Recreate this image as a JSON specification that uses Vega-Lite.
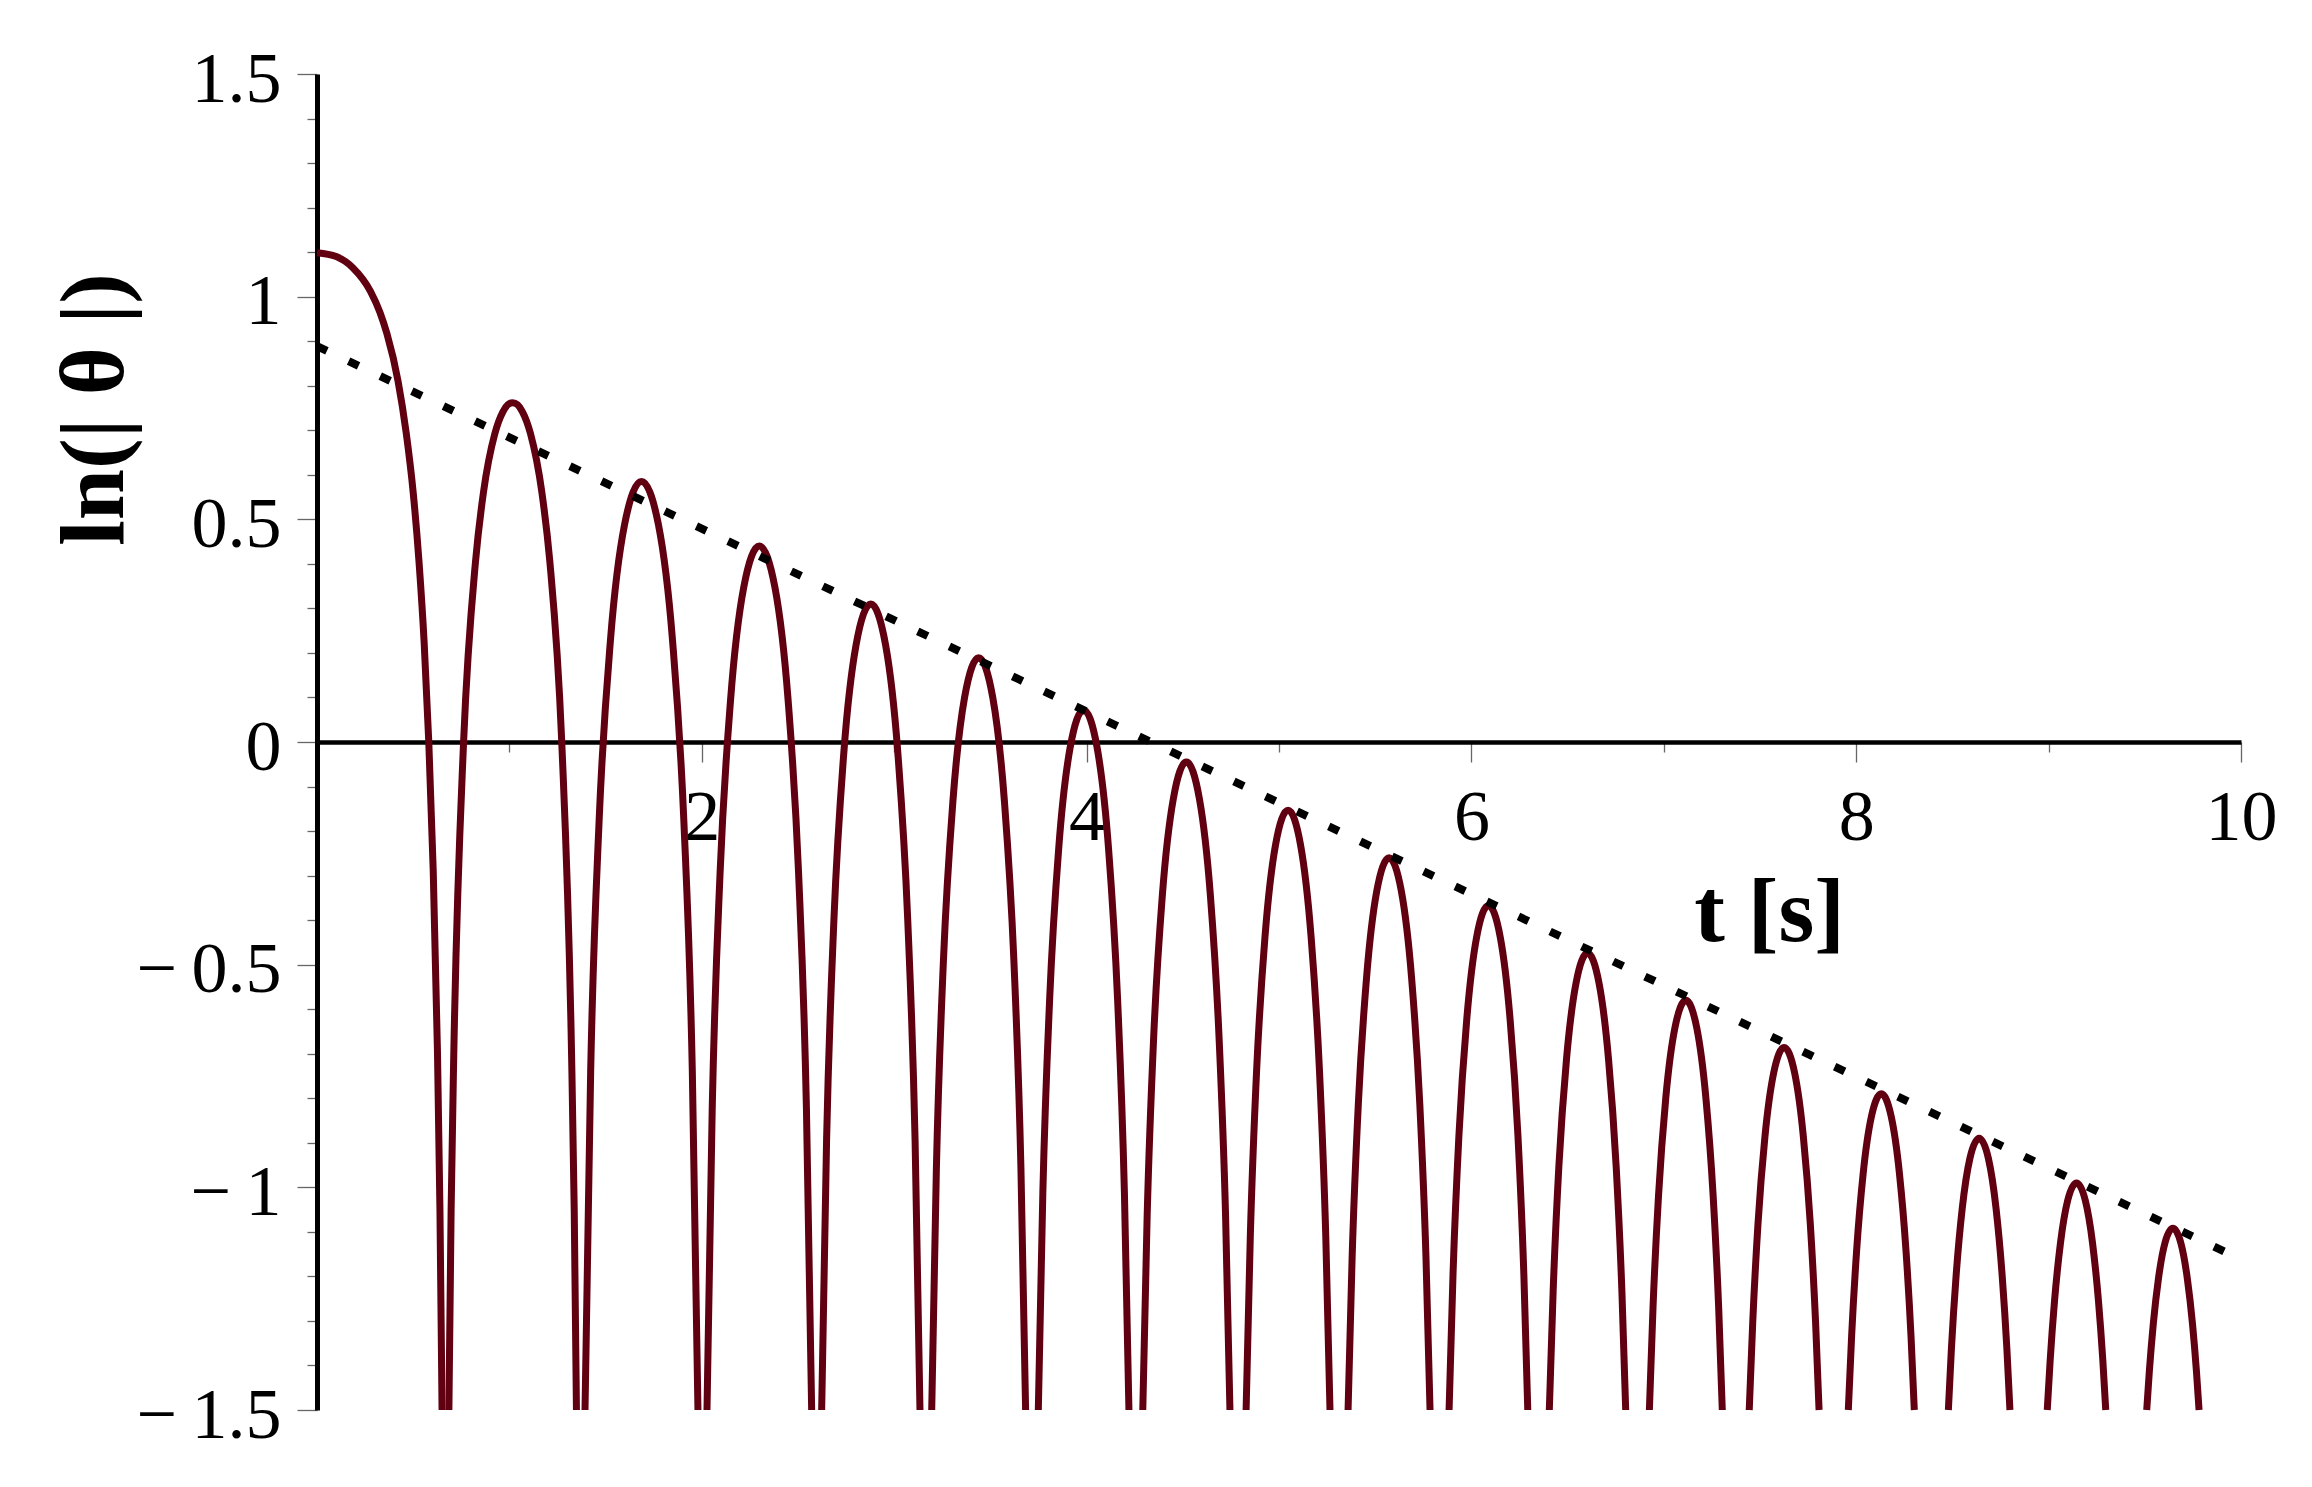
{
  "$schema": "https://vega.github.io/schema/vega-lite/v6.json",
  "width": 1924,
  "height": 1336,
  "autosize": {"type": "none"},
  "padding": {"left": 317, "top": 74, "right": 71, "bottom": 77},
  "background": "white",
  "config": {"view": {"stroke": null}},
  "datasets": {
    "fit": [{"t": 0, "y": 0.889}, {"t": 10, "y": -1.162}],
    "curve": [
      {"t":0,"y":1.0986,"s":0},{"t":0.1,"y":1.09,"s":0},{"t":0.186,"y":1.065,"s":0},{"t":0.278,"y":1.012,"s":0},{"t":0.327,"y":0.965,"s":0},{"t":0.364,"y":0.916,"s":0},{"t":0.421,"y":0.811,"s":0},{"t":0.464,"y":0.693,"s":0},{"t":0.5,"y":0.56,"s":0},{"t":0.53,"y":0.406,"s":0},{"t":0.557,"y":0.223,"s":0},{"t":0.581,"y":0,"s":0},{"t":0.604,"y":-0.288,"s":0},{"t":0.626,"y":-0.693,"s":0},{"t":0.639,"y":-1.05,"s":0},{"t":0.65,"y":-1.5,"s":0},
      {"t":0.6855,"y":-1.5,"s":1},{"t":0.6971,"y":-1.05,"s":1},{"t":0.7113,"y":-0.693,"s":1},{"t":0.7619,"y":0,"s":1},{"t":0.824,"y":0.406,"s":1},{"t":0.865,"y":0.56,"s":1},{"t":0.9247,"y":0.693,"s":1},{"t":0.9668,"y":0.742,"s":1},{"t":0.992,"y":0.7575,"s":1},{"t":1.017,"y":0.762,"s":1},{"t":1.042,"y":0.7575,"s":1},{"t":1.0672,"y":0.742,"s":1},{"t":1.1093,"y":0.693,"s":1},{"t":1.169,"y":0.56,"s":1},{"t":1.21,"y":0.406,"s":1},{"t":1.2721,"y":0,"s":1},{"t":1.3227,"y":-0.693,"s":1},{"t":1.3369,"y":-1.05,"s":1},{"t":1.3485,"y":-1.5,"s":1},
      {"t":1.393,"y":-1.5,"s":2},{"t":1.4224,"y":-0.739,"s":2},{"t":1.4664,"y":-0.176,"s":2},{"t":1.5251,"y":0.228,"s":2},{"t":1.5985,"y":0.488,"s":2},{"t":1.6865,"y":0.585,"s":2},{"t":1.7746,"y":0.488,"s":2},{"t":1.8479,"y":0.228,"s":2},{"t":1.9066,"y":-0.176,"s":2},{"t":1.9507,"y":-0.739,"s":2},{"t":1.98,"y":-1.5,"s":2},
      {"t":2.027,"y":-1.5,"s":3},{"t":2.0542,"y":-0.822,"s":3},{"t":2.095,"y":-0.294,"s":3},{"t":2.1494,"y":0.094,"s":3},{"t":2.2174,"y":0.346,"s":3},{"t":2.299,"y":0.44,"s":3},{"t":2.3806,"y":0.346,"s":3},{"t":2.4486,"y":0.094,"s":3},{"t":2.503,"y":-0.294,"s":3},{"t":2.5438,"y":-0.822,"s":3},{"t":2.571,"y":-1.5,"s":3},
      {"t":2.623,"y":-1.5,"s":4},{"t":2.6486,"y":-0.893,"s":4},{"t":2.6869,"y":-0.397,"s":4},{"t":2.738,"y":-0.025,"s":4},{"t":2.8019,"y":0.218,"s":4},{"t":2.8785,"y":0.31,"s":4},{"t":2.9552,"y":0.218,"s":4},{"t":3.019,"y":-0.025,"s":4},{"t":3.0701,"y":-0.397,"s":4},{"t":3.1085,"y":-0.893,"s":4},{"t":3.134,"y":-1.5,"s":4},
      {"t":3.195,"y":-1.5,"s":5},{"t":3.2194,"y":-0.955,"s":5},{"t":3.256,"y":-0.49,"s":5},{"t":3.3048,"y":-0.135,"s":5},{"t":3.3658,"y":0.1,"s":5},{"t":3.439,"y":0.189,"s":5},{"t":3.5122,"y":0.1,"s":5},{"t":3.5732,"y":-0.135,"s":5},{"t":3.622,"y":-0.49,"s":5},{"t":3.6586,"y":-0.955,"s":5},{"t":3.683,"y":-1.5,"s":5},
      {"t":3.749,"y":-1.5,"s":6},{"t":3.7726,"y":-1.011,"s":6},{"t":3.8079,"y":-0.578,"s":6},{"t":3.855,"y":-0.239,"s":6},{"t":3.9139,"y":-0.014,"s":6},{"t":3.9845,"y":0.072,"s":6},{"t":4.0552,"y":-0.014,"s":6},{"t":4.114,"y":-0.239,"s":6},{"t":4.1611,"y":-0.578,"s":6},{"t":4.1965,"y":-1.011,"s":6},{"t":4.22,"y":-1.5,"s":6},
      {"t":4.292,"y":-1.5,"s":7},{"t":4.3147,"y":-1.065,"s":7},{"t":4.3486,"y":-0.663,"s":7},{"t":4.3939,"y":-0.343,"s":7},{"t":4.4506,"y":-0.128,"s":7},{"t":4.5185,"y":-0.045,"s":7},{"t":4.5865,"y":-0.128,"s":7},{"t":4.6431,"y":-0.343,"s":7},{"t":4.6884,"y":-0.663,"s":7},{"t":4.7224,"y":-1.065,"s":7},{"t":4.745,"y":-1.5,"s":7},
      {"t":4.829,"y":-1.5,"s":8},{"t":4.8508,"y":-1.111,"s":8},{"t":4.8835,"y":-0.739,"s":8},{"t":4.9271,"y":-0.438,"s":8},{"t":4.9816,"y":-0.232,"s":8},{"t":5.047,"y":-0.153,"s":8},{"t":5.1124,"y":-0.232,"s":8},{"t":5.1669,"y":-0.438,"s":8},{"t":5.2105,"y":-0.739,"s":8},{"t":5.2432,"y":-1.111,"s":8},{"t":5.265,"y":-1.5,"s":8},
      {"t":5.359,"y":-1.5,"s":9},{"t":5.3803,"y":-1.154,"s":9},{"t":5.4123,"y":-0.813,"s":9},{"t":5.4549,"y":-0.53,"s":9},{"t":5.5081,"y":-0.335,"s":9},{"t":5.572,"y":-0.26,"s":9},{"t":5.6359,"y":-0.335,"s":9},{"t":5.6892,"y":-0.53,"s":9},{"t":5.7318,"y":-0.813,"s":9},{"t":5.7637,"y":-1.154,"s":9},{"t":5.785,"y":-1.5,"s":9},
      {"t":5.884,"y":-1.5,"s":10},{"t":5.9045,"y":-1.195,"s":10},{"t":5.9351,"y":-0.884,"s":10},{"t":5.976,"y":-0.622,"s":10},{"t":6.0272,"y":-0.438,"s":10},{"t":6.0885,"y":-0.367,"s":10},{"t":6.1499,"y":-0.438,"s":10},{"t":6.201,"y":-0.622,"s":10},{"t":6.2419,"y":-0.884,"s":10},{"t":6.2726,"y":-1.195,"s":10},{"t":6.293,"y":-1.5,"s":10},
      {"t":6.405,"y":-1.5,"s":11},{"t":6.4249,"y":-1.233,"s":11},{"t":6.4546,"y":-0.953,"s":11},{"t":6.4943,"y":-0.712,"s":11},{"t":6.544,"y":-0.541,"s":11},{"t":6.6035,"y":-0.474,"s":11},{"t":6.6631,"y":-0.541,"s":11},{"t":6.7127,"y":-0.712,"s":11},{"t":6.7524,"y":-0.953,"s":11},{"t":6.7822,"y":-1.233,"s":11},{"t":6.802,"y":-1.5,"s":11},
      {"t":6.925,"y":-1.5,"s":12},{"t":6.944,"y":-1.269,"s":12},{"t":6.9724,"y":-1.02,"s":12},{"t":7.0103,"y":-0.799,"s":12},{"t":7.0577,"y":-0.642,"s":12},{"t":7.1145,"y":-0.58,"s":12},{"t":7.1714,"y":-0.642,"s":12},{"t":7.2187,"y":-0.799,"s":12},{"t":7.2566,"y":-1.02,"s":12},{"t":7.2851,"y":-1.269,"s":12},{"t":7.304,"y":-1.5,"s":12},
      {"t":7.444,"y":-1.5,"s":13},{"t":7.4622,"y":-1.303,"s":13},{"t":7.4894,"y":-1.083,"s":13},{"t":7.5257,"y":-0.886,"s":13},{"t":7.5711,"y":-0.743,"s":13},{"t":7.6255,"y":-0.686,"s":13},{"t":7.68,"y":-0.743,"s":13},{"t":7.7253,"y":-0.886,"s":13},{"t":7.7616,"y":-1.083,"s":13},{"t":7.7889,"y":-1.303,"s":13},{"t":7.807,"y":-1.5,"s":13},
      {"t":7.959,"y":-1.5,"s":14},{"t":7.9762,"y":-1.334,"s":14},{"t":8.0019,"y":-1.144,"s":14},{"t":8.0362,"y":-0.969,"s":14},{"t":8.0791,"y":-0.841,"s":14},{"t":8.1305,"y":-0.79,"s":14},{"t":8.182,"y":-0.841,"s":14},{"t":8.2248,"y":-0.969,"s":14},{"t":8.2591,"y":-1.144,"s":14},{"t":8.2849,"y":-1.334,"s":14},{"t":8.302,"y":-1.5,"s":14},
      {"t":8.479,"y":-1.5,"s":15},{"t":8.495,"y":-1.361,"s":15},{"t":8.519,"y":-1.2,"s":15},{"t":8.551,"y":-1.048,"s":15},{"t":8.591,"y":-0.935,"s":15},{"t":8.639,"y":-0.89,"s":15},{"t":8.687,"y":-0.935,"s":15},{"t":8.727,"y":-1.048,"s":15},{"t":8.759,"y":-1.2,"s":15},{"t":8.783,"y":-1.361,"s":15},{"t":8.799,"y":-1.5,"s":15},
      {"t":8.993,"y":-1.5,"s":16},{"t":9.0082,"y":-1.388,"s":16},{"t":9.031,"y":-1.254,"s":16},{"t":9.0614,"y":-1.126,"s":16},{"t":9.0994,"y":-1.029,"s":16},{"t":9.145,"y":-0.99,"s":16},{"t":9.1906,"y":-1.029,"s":16},{"t":9.2286,"y":-1.126,"s":16},{"t":9.259,"y":-1.254,"s":16},{"t":9.2818,"y":-1.388,"s":16},{"t":9.297,"y":-1.5,"s":16},
      {"t":9.51,"y":-1.5,"s":17},{"t":9.5236,"y":-1.413,"s":17},{"t":9.544,"y":-1.307,"s":17},{"t":9.5712,"y":-1.204,"s":17},{"t":9.6052,"y":-1.124,"s":17},{"t":9.646,"y":-1.092,"s":17},{"t":9.6868,"y":-1.124,"s":17},{"t":9.7208,"y":-1.204,"s":17},{"t":9.748,"y":-1.307,"s":17},{"t":9.7684,"y":-1.413,"s":17},{"t":9.782,"y":-1.5,"s":17}
    ]
  },
  "layer": [
    {
      "data": {"name": "curve"},
      "mark": {"type": "line", "color": "#600010", "strokeWidth": 7, "interpolate": "monotone", "strokeCap": "butt", "strokeJoin": "round"},
      "encoding": {
        "x": {
          "field": "t", "type": "quantitative",
          "scale": {"domain": [0, 10], "nice": false, "zero": false},
          "axis": {
            "orient": "bottom", "offset": -668,
            "values": [1, 2, 3, 4, 5, 6, 7, 8, 9, 10],
            "grid": false,
            "domainColor": "black", "domainWidth": 4.5,
            "tickSize": 20, "tickColor": "#666666", "tickWidth": 1.3,
            "tickDash": {"condition": {"test": "datum.value % 2 !== 0", "value": [10, 40]}, "value": [40, 0]},
            "labelExpr": "datum.value % 2 === 0 ? format(datum.value, 'd') : ''",
            "labelFont": "Liberation Serif", "labelFontSize": 72, "labelColor": "black",
            "labelPadding": 20, "labelFlush": false, "labelOverlap": false, "labelBound": false,
            "title": "t [s]", "titleFont": "Liberation Serif", "titleFontSize": 92, "titleFontWeight": "bold", "titleColor": "black",
            "titleX": 1452, "titleY": 198, "titleAlign": "center", "titleBaseline": "alphabetic", "titleAngle": 0
          }
        },
        "y": {
          "field": "y", "type": "quantitative",
          "scale": {"domain": [-1.5, 1.5], "nice": false, "zero": false},
          "axis": {
            "orient": "left",
            "values": [-1.5, -1.4, -1.3, -1.2, -1.1, -1, -0.9, -0.8, -0.7, -0.6, -0.5, -0.4, -0.3, -0.2, -0.1, 0, 0.1, 0.2, 0.3, 0.4, 0.5, 0.6, 0.7, 0.8, 0.9, 1, 1.1, 1.2, 1.3, 1.4, 1.5],
            "grid": false,
            "domainColor": "black", "domainWidth": 5,
            "tickSize": 20, "tickColor": "#666666", "tickWidth": 1.3,
            "tickDash": {"condition": {"test": "abs(datum.value * 2 - round(datum.value * 2)) > 0.001", "value": [10, 40]}, "value": [40, 0]},
            "labelExpr": "abs(datum.value * 2 - round(datum.value * 2)) < 0.001 ? (datum.value < -0.001 ? '\u2212\u2009' + format(-datum.value, '~g') : format(abs(datum.value), '~g')) : ''",
            "labelFont": "Liberation Serif", "labelFontSize": 72, "labelColor": "black",
            "labelPadding": 16, "labelOffset": 5, "labelAlign": "right", "labelBaseline": "middle",
            "labelFlush": false, "labelOverlap": false, "labelBound": false,
            "title": "ln(| θ |)", "titleFont": "Liberation Serif", "titleFontSize": 92, "titleFontWeight": "bold", "titleColor": "black",
            "titleAngle": 270, "titleX": -195, "titleY": 335, "titleAlign": "center", "titleBaseline": "alphabetic"
          }
        },
        "detail": {"field": "s", "type": "nominal"}
      }
    },
    {
      "data": {"name": "fit"},
      "mark": {"type": "line", "color": "black", "strokeWidth": 8, "strokeDash": [11, 24], "strokeCap": "butt"},
      "encoding": {
        "x": {"field": "t", "type": "quantitative"},
        "y": {"field": "y", "type": "quantitative"}
      }
    }
  ]
}
